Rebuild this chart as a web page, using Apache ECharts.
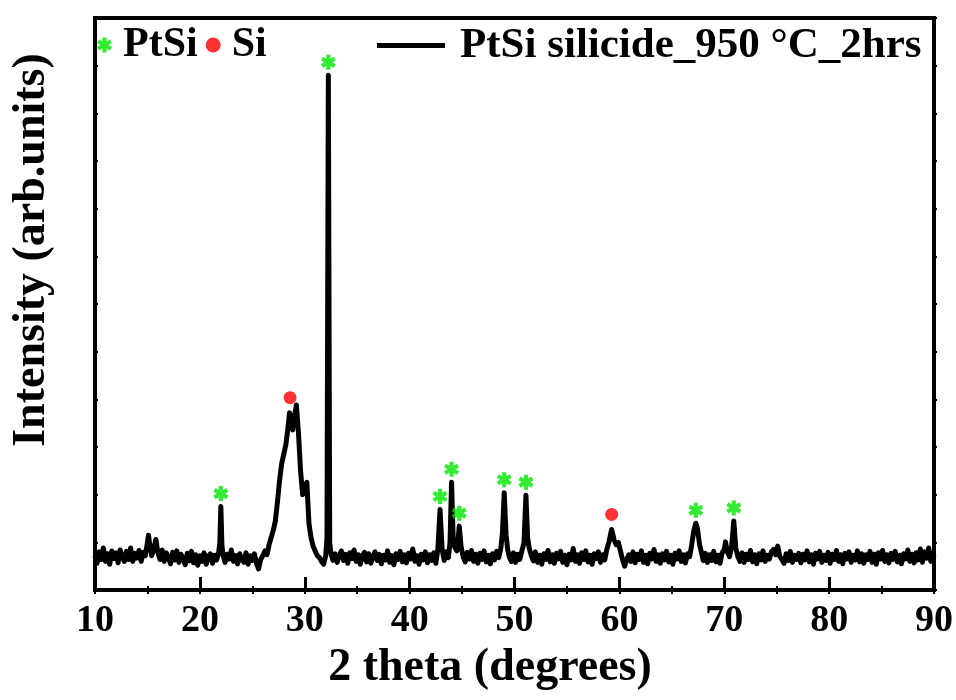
<!DOCTYPE html>
<html>
<head>
<meta charset="utf-8">
<script src="https://cdn.jsdelivr.net/npm/echarts@6/dist/echarts.min.js"></script>
<style>
html,body{margin:0;padding:0;background:#fff;}
#chart{width:956px;height:700px;}
</style>
</head>
<body>
<div id="chart"></div>
<script>
// X tick labels (2 theta, degrees)
var xTicks = [10, 20, 30, 40, 50, 60, 70, 80, 90];
var seriesName = 'PtSi silicide_950 \u00B0C_2hrs';
var markerNames = ['PtSi', 'Si'];

// XRD pattern: [2theta, intensity (arb. units)]
var xrdPattern = [
[10.0,72],[10.2,56],[10.4,80],[10.6,64],[10.8,88],[11.0,60],[11.2,76],[11.4,54],[11.6,82],[11.8,66],
[12.0,78],[12.2,57],[12.4,84],[12.6,70],[12.8,60],[13.0,81],[13.2,64],[13.4,88],[13.6,60],[13.8,77],
[14.0,67],[14.2,83],[14.4,60],[14.6,79],[14.8,72],[15.0,100],[15.1,115],[15.2,98],[15.4,72],[15.6,85],
[15.8,106],[16.0,78],[16.2,64],[16.4,84],[16.6,60],[16.8,78],[17.0,68],[17.2,55],[17.4,79],[17.6,63],
[17.8,82],[18.0,58],[18.2,75],[18.4,66],[18.6,53],[18.8,77],[19.0,61],[19.2,81],[19.4,57],[19.6,74],
[19.8,52],[20.0,72],[20.2,60],[20.4,78],[20.6,54],[20.8,70],[21.0,76],[21.2,56],[21.4,73],[21.6,63],
[21.8,80],[21.9,98],[22.0,175],[22.1,95],[22.2,74],[22.4,58],[22.6,75],[22.8,65],[23.0,84],[23.2,60],
[23.4,72],[23.6,55],[23.8,76],[24.0,64],[24.2,58],[24.4,78],[24.6,54],[24.8,72],[25.0,62],[25.2,76],
[25.4,56],[25.6,44],[25.8,64],[26.0,72],[26.2,82],[26.4,74],[26.6,95],[26.8,110],[27.0,125],[27.2,145],
[27.4,185],[27.6,230],[27.8,265],[28.0,285],[28.2,305],[28.4,340],[28.55,372],[28.7,350],[28.85,336],[29.0,362],
[29.2,388],[29.4,330],[29.6,250],[29.8,200],[30.0,215],[30.2,226],[30.4,140],[30.6,110],[30.8,92],[31.0,82],
[31.2,72],[31.4,68],[31.6,60],[31.8,54],[32.0,72],[32.12,110],[32.25,1080],[32.38,100],[32.5,76],[32.7,62],
[32.9,76],[33.1,58],[33.3,73],[33.5,82],[33.7,62],[33.9,75],[34.1,56],[34.3,78],[34.5,66],[34.7,84],
[34.9,60],[35.1,74],[35.3,54],[35.5,72],[35.7,79],[35.9,59],[36.1,76],[36.3,56],[36.5,70],[36.7,80],
[36.9,62],[37.1,75],[37.3,55],[37.5,73],[37.7,63],[37.9,82],[38.1,58],[38.3,72],[38.5,53],[38.7,76],
[38.9,64],[39.1,81],[39.3,59],[39.5,74],[39.7,57],[39.9,77],[40.1,65],[40.3,86],[40.5,60],[40.7,72],
[40.9,54],[41.1,75],[41.3,63],[41.5,80],[41.7,57],[41.9,74],[42.1,62],[42.3,78],[42.5,56],[42.7,88],
[42.9,169],[43.1,85],[43.3,62],[43.5,80],[43.7,68],[43.85,100],[44.0,226],[44.15,110],[44.3,90],[44.5,82],
[44.6,100],[44.73,134],[44.9,92],[45.1,70],[45.3,59],[45.5,79],[45.7,65],[45.9,83],[46.1,60],[46.3,75],
[46.5,56],[46.7,77],[46.9,64],[47.1,82],[47.3,59],[47.5,73],[47.7,55],[47.9,76],[48.1,63],[48.3,81],
[48.5,68],[48.7,88],[48.85,120],[49.02,204],[49.2,115],[49.35,85],[49.5,70],[49.7,60],[49.9,78],[50.1,58],
[50.3,75],[50.5,64],[50.7,82],[50.9,98],[51.09,199],[51.25,110],[51.4,88],[51.6,72],[51.8,61],[52.0,80],
[52.2,58],[52.4,73],[52.6,54],[52.8,76],[53.0,64],[53.2,83],[53.4,59],[53.6,74],[53.8,56],[54.0,77],
[54.2,65],[54.4,81],[54.6,58],[54.8,73],[55.0,53],[55.2,75],[55.4,63],[55.6,87],[55.8,60],[56.0,74],
[56.2,56],[56.4,78],[56.6,64],[56.8,82],[57.0,59],[57.2,73],[57.4,54],[57.6,76],[57.8,66],[58.0,80],
[58.2,58],[58.4,74],[58.6,63],[58.8,85],[59.0,100],[59.26,127],[59.5,105],[59.7,95],[59.9,100],[60.1,82],
[60.3,64],[60.5,50],[60.7,64],[60.9,74],[61.1,60],[61.3,80],[61.5,57],[61.7,75],[61.9,64],[62.1,82],
[62.3,58],[62.5,73],[62.7,55],[62.9,77],[63.1,65],[63.3,85],[63.5,60],[63.7,74],[63.9,56],[64.1,76],
[64.3,63],[64.5,81],[64.7,59],[64.9,73],[65.1,54],[65.3,77],[65.5,65],[65.7,82],[65.9,60],[66.1,74],
[66.3,57],[66.5,76],[66.7,70],[66.9,95],[67.1,125],[67.29,140],[67.45,128],[67.65,95],[67.85,76],[68.0,62],
[68.2,77],[68.4,58],[68.6,74],[68.8,62],[69.0,81],[69.2,59],[69.4,73],[69.6,56],[69.8,78],[70.0,85],
[70.12,101],[70.3,80],[70.5,70],[70.7,90],[70.91,145],[71.1,88],[71.3,70],[71.5,60],[71.7,78],[71.9,58],
[72.1,75],[72.3,64],[72.5,83],[72.7,59],[72.9,74],[73.1,55],[73.3,76],[73.5,63],[73.7,82],[73.9,60],
[74.1,73],[74.3,65],[74.5,80],[74.7,85],[74.9,74],[75.1,92],[75.3,70],[75.5,64],[75.7,56],[75.9,76],
[76.1,62],[76.3,81],[76.5,58],[76.7,73],[76.9,64],[77.1,77],[77.3,57],[77.5,75],[77.7,63],[77.9,82],
[78.1,59],[78.3,74],[78.5,54],[78.7,77],[78.9,65],[79.1,81],[79.3,58],[79.5,73],[79.7,62],[79.9,79],
[80.1,56],[80.3,75],[80.5,64],[80.7,83],[80.9,60],[81.1,74],[81.3,55],[81.5,77],[81.7,65],[81.9,80],
[82.1,58],[82.3,73],[82.5,63],[82.7,82],[82.9,59],[83.1,76],[83.3,56],[83.5,74],[83.7,64],[83.9,81],
[84.1,58],[84.3,75],[84.5,54],[84.7,78],[84.9,65],[85.1,83],[85.3,60],[85.5,74],[85.7,57],[85.9,77],
[86.1,64],[86.3,81],[86.5,59],[86.7,73],[86.9,55],[87.1,76],[87.3,65],[87.5,84],[87.7,60],[87.9,75],
[88.1,57],[88.3,78],[88.5,63],[88.7,86],[88.9,58],[89.1,80],[89.3,67],[89.5,88],[89.7,60],[89.9,77],
[90.0,70]
];

// PtSi reflections (green asterisks): [2theta, peak intensity]
var ptsiPeaks = [[22.0,175],[32.25,1080],[42.9,169],[44.0,226],[44.73,134],[49.02,204],[51.09,199],[67.29,140],[70.91,145]];
// Si reflections (red dots): [2theta, peak intensity]
var siPeaks = [[28.6,372],[59.26,127]];

var FONT = '"Liberation Serif", "Times New Roman", serif';
var asterisk = 'path://M-1.4,5 L1.4,5 L1.4,-5 L-1.4,-5 Z M3.63,3.71 L5.03,1.29 L-3.63,-3.71 L-5.03,-1.29 Z M-5.03,1.29 L-3.63,3.71 L5.03,-1.29 L3.63,-3.71 Z';

var chart = echarts.init(document.getElementById('chart'), null, {renderer: 'canvas'});
chart.setOption({
  backgroundColor: '#ffffff',
  animation: false,
  grid: {left: 95, right: 21, top: 18, bottom: 110, show: true, borderColor: '#000', borderWidth: 4, backgroundColor: 'transparent'},
  legend: [
    {
      data: markerNames, left: 92, top: 19, orient: 'horizontal',
      itemWidth: 15, itemHeight: 15, itemGap: 8,
      textStyle: {fontFamily: FONT, fontWeight: 'bold', fontSize: 42, color: '#000', padding: [0, 0, 0, 6]}
    },
    {
      data: [seriesName], left: 372, top: 19,
      icon: 'rect', itemWidth: 68, itemHeight: 5,
      textStyle: {fontFamily: FONT, fontWeight: 'bold', fontSize: 43, color: '#000', padding: [0, 0, 0, 10]}
    }
  ],
  xAxis: [
    {
      type: 'value', min: xTicks[0], max: xTicks[xTicks.length - 1], interval: 10, position: 'bottom',
      axisLine: {show: false},
      axisTick: {show: true, inside: true, length: 13, lineStyle: {color: '#000', width: 3}},
      minorTick: {show: true, splitNumber: 2, length: 4, lineStyle: {color: '#000', width: 2}},
      axisLabel: {show: true, margin: 12, fontFamily: FONT, fontWeight: 'bold', fontSize: 38, color: '#000'},
      splitLine: {show: false}
    },
    {
      type: 'value', min: xTicks[0], max: xTicks[xTicks.length - 1], interval: 10, position: 'top',
      axisLine: {show: false},
      axisTick: {show: true, inside: true, length: 4, lineStyle: {color: '#000', width: 2}},
      minorTick: {show: true, splitNumber: 2, length: 4, lineStyle: {color: '#000', width: 2}},
      axisLabel: {show: false}, splitLine: {show: false}
    }
  ],
  yAxis: [
    {
      type: 'value', min: 0, max: 1200, interval: 100, position: 'left',
      axisLine: {show: false},
      axisTick: {show: true, inside: true, length: 3, lineStyle: {color: '#000', width: 2}},
      axisLabel: {show: false}, splitLine: {show: false}
    },
    {
      type: 'value', min: 0, max: 1200, interval: 100, position: 'right',
      axisLine: {show: false},
      axisTick: {show: true, inside: false, length: 3, lineStyle: {color: '#000', width: 2}},
      axisLabel: {show: false}, splitLine: {show: false}
    }
  ],
  graphic: [
    {type: 'text', x: 490, y: 668, style: {text: '2 theta (degrees)', font: 'bold 46px ' + FONT, fill: '#000', align: 'center', verticalAlign: 'middle'}},
    {type: 'text', x: 32, y: 250, rotation: Math.PI / 2, style: {text: 'Intensity (arb.units)', font: 'bold 46px ' + FONT, fill: '#000', align: 'center', verticalAlign: 'middle'}}
  ],
  series: [
    {
      name: seriesName, type: 'line', xAxisIndex: 0, yAxisIndex: 0,
      data: xrdPattern, showSymbol: false, symbol: 'none',
      lineStyle: {color: '#000', width: 5, join: 'round'}, itemStyle: {color: '#000'}, z: 2
    },
    {
      name: 'PtSi', type: 'scatter', xAxisIndex: 0, yAxisIndex: 0,
      data: ptsiPeaks, symbol: asterisk, symbolSize: 15, symbolOffset: [0, -13],
      itemStyle: {color: '#00e600'}, z: 5
    },
    {
      name: 'Si', type: 'scatter', xAxisIndex: 0, yAxisIndex: 0,
      data: siPeaks, symbol: 'circle', symbolSize: 13, symbolOffset: [0, -15],
      itemStyle: {color: '#ff0000'}, z: 5
    }
  ]
});
</script>
</body>
</html>
